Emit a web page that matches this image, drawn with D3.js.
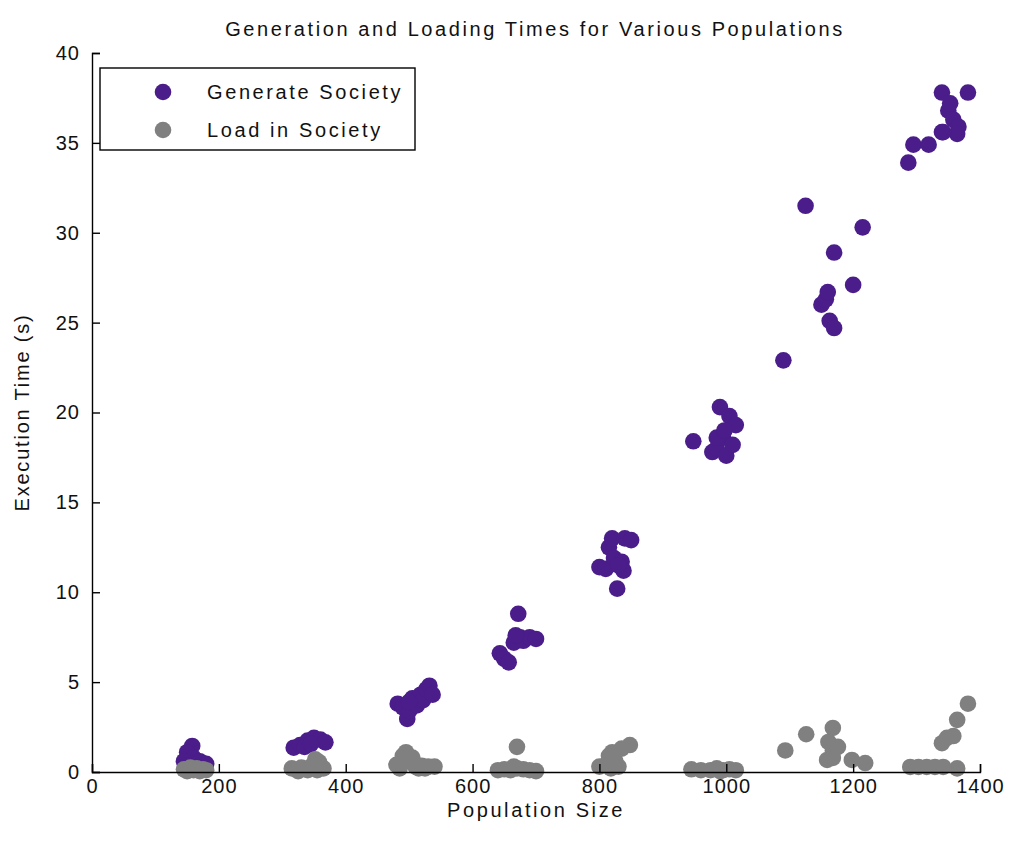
<!DOCTYPE html>
<html>
<head>
<meta charset="utf-8">
<script src="https://cdn.jsdelivr.net/npm/d3@7"></script>
<style>
  html, body { margin: 0; padding: 0; background: #fff; }
  svg text { font-family: "Liberation Sans", Arial, sans-serif; fill: #111; }
</style>
</head>
<body>
<svg id="chart" width="1013" height="842"></svg>
<script>
const title = "Generation and Loading Times for Various Populations";
const xLabel = "Population Size";
const yLabel = "Execution Time (s)";
const seriesNames = ["Generate Society", "Load in Society"];
const xTicks = [0, 200, 400, 600, 800, 1000, 1200, 1400];
const yTicks = [0, 5, 10, 15, 20, 25, 30, 35, 40];

// Generate Society: population and seconds
const generatePop = [158,150,160,145,170,180,150,165,
  318,328,340,350,360,368,335,345,
  482,490,497,500,505,512,518,522,527,532,537,500,
  643,650,657,665,672,675,680,690,700,668,
  800,810,815,820,823,828,835,838,840,850,830,
  948,978,985,990,995,1000,1005,1010,1015,985,997,
  1090,1125,1150,1157,1160,1163,1170,1170,1200,1215,
  1287,1295,1319,1340,1340,1350,1353,1358,1366,1364,1381,1342];
const generateTime = [1.45,1.1,0.8,0.6,0.6,0.45,0.35,0.25,
  1.35,1.5,1.75,1.9,1.8,1.65,1.4,1.55,
  3.8,3.6,2.95,3.4,4.1,3.7,4.3,4.0,4.6,4.8,4.3,3.9,
  6.6,6.3,6.1,7.2,8.8,7.5,7.3,7.5,7.4,7.6,
  11.4,11.3,12.5,13.0,11.9,10.2,11.7,11.2,13.0,12.9,11.5,
  18.4,17.8,18.0,20.3,18.6,17.6,19.8,18.2,19.3,18.6,19.0,
  22.9,31.5,26.0,26.3,26.7,25.1,24.7,28.9,27.1,30.3,
  33.9,34.9,34.9,35.6,37.8,36.8,37.2,36.3,35.9,35.5,37.8,35.6];

// Load in Society: population and seconds
const loadPop = [145,155,165,175,180,150,170,160,
  315,330,345,358,352,365,340,355,325,
  480,490,495,500,505,510,520,525,530,540,485,515,
  640,650,660,670,670,680,690,700,665,
  800,810,815,820,825,830,835,848,818,
  945,975,985,995,1005,1015,990,960,
  1093,1126,1159,1161,1168,1168,1176,1168,1198,1219,
  1290,1303,1316,1329,1342,1364,1340,1348,1358,1364,1381];
const loadTime = [0.15,0.25,0.2,0.15,0.1,0.05,0.05,0.1,
  0.2,0.25,0.3,0.55,0.7,0.2,0.1,0.1,0.05,
  0.4,0.9,1.1,0.6,0.8,0.3,0.35,0.2,0.3,0.3,0.2,0.2,
  0.1,0.15,0.1,0.2,1.4,0.15,0.1,0.05,0.3,
  0.3,0.4,0.9,1.1,0.6,0.3,1.3,1.5,0.2,
  0.15,0.1,0.2,0.1,0.15,0.1,0.05,0.1,
  1.2,2.1,0.67,1.67,0.78,2.45,1.4,1.2,0.67,0.5,
  0.28,0.28,0.28,0.28,0.28,0.2,1.6,1.9,2.0,2.9,3.8];

const colors = ["#4a1d8a", "#808080"];

const svg = d3.select("#chart");
const W = 1013, H = 842;
const m = {left: 92, right: W - 980, top: 53, bottom: H - 772};

const x = d3.scaleLinear().domain([0, 1400]).range([m.left, W - m.right]);
const y = d3.scaleLinear().domain([0, 40]).range([H - m.bottom, m.top]);

const FONT = "'Liberation Sans', Arial, sans-serif";

// points
const series = [
  {pop: generatePop, t: generateTime, c: colors[0]},
  {pop: loadPop, t: loadTime, c: colors[1]}
];
series.forEach(s => {
  svg.append("g").selectAll("circle")
    .data(s.pop.map((p, i) => [p, s.t[i]]))
    .join("circle")
    .attr("cx", d => x(d[0]))
    .attr("cy", d => y(d[1]))
    .attr("r", 8.3)
    .attr("fill", s.c);
});

// axes (ticks inward)
const xAxis = d3.axisBottom(x).tickValues(xTicks).tickSize(-8).tickPadding(7).tickFormat(d3.format("d"));
const yAxis = d3.axisLeft(y).tickValues(yTicks).tickSize(-8).tickPadding(12).tickFormat(d3.format("d"));

const gx = svg.append("g").attr("transform", `translate(0,${H - m.bottom})`).call(xAxis);
const gy = svg.append("g").attr("transform", `translate(${m.left},0)`).call(yAxis);
[gx, gy].forEach(a => {
  a.select(".domain").attr("stroke", "#000").attr("stroke-width", 1.4);
  a.selectAll(".tick line").attr("stroke", "#000").attr("stroke-width", 1.4);
  a.selectAll(".tick text").attr("font-size", 20).attr("fill", "#111")
    .style("font-family", FONT).style("letter-spacing", "1px");
});
gx.selectAll(".tick text").attr("dy", "0.7em");

// title and labels
svg.append("text").attr("x", 535).attr("y", 36).attr("text-anchor", "middle")
  .attr("font-size", 20).style("letter-spacing", "2.6px").text(title);
svg.append("text").attr("x", 536).attr("y", 817).attr("text-anchor", "middle")
  .attr("font-size", 20).style("letter-spacing", "2.6px").text(xLabel);
svg.append("text").attr("transform", `translate(29,${(m.top + H - m.bottom) / 2}) rotate(-90)`)
  .attr("text-anchor", "middle").attr("font-size", 20).style("letter-spacing", "1.8px").text(yLabel);

// legend
const lg = svg.append("g");
lg.append("rect").attr("x", 100).attr("y", 68).attr("width", 315).attr("height", 82)
  .attr("fill", "#fff").attr("stroke", "#000").attr("stroke-width", 1.4);
seriesNames.forEach((n, i) => {
  const cy = 92 + i * 38;
  lg.append("circle").attr("cx", 163).attr("cy", cy).attr("r", 8.3).attr("fill", colors[i]);
  lg.append("text").attr("x", 207).attr("y", cy + 7).attr("font-size", 20)
    .style("letter-spacing", "2.6px").text(n);
});
</script>
</body>
</html>
